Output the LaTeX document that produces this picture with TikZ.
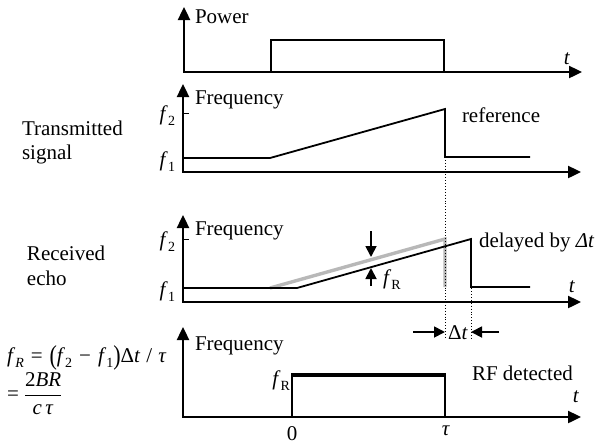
\documentclass[tikz,border=0pt]{standalone}
\usepackage{fontspec}
\setmainfont{Liberation Serif}
\usetikzlibrary{arrows.meta}
% lowered subscript in the text font
\newcommand\lowsub[1]{\raisebox{-0.28em}{\fontsize{14}{14}\selectfont #1}}
% taller parentheses for the formula
\newcommand\tallp[1]{\raisebox{-0.12em}{\scalebox{1.05}[1.3]{#1}}}

\begin{document}
\begin{tikzpicture}[x=1pt,y=-1pt,
  every node/.style={inner sep=0pt, outer sep=0pt},
  lbl/.style={font=\fontsize{21}{24}\selectfont},
  axis/.style={line width=2.4pt, line join=miter,
    {Triangle[length=13pt,width=12pt]}-{Triangle[length=13pt,width=12pt]}},
  sig/.style={line width=1.8pt, line join=miter},
  refsig/.style={line width=3.4pt, black!28, line join=miter},
  guide/.style={line width=0.9pt, dotted},
  tickmark/.style={line width=0.9pt},
  pointer/.style={line width=1.8pt, -{Triangle[length=11pt,width=11pt]}},
  heavy/.style={line width=4.5pt}]

\useasboundingbox (0,0) rectangle (597,445);

% ---------- power ----------
\coordinate (p1top) at (184,7);
\coordinate (p1o) at (184,72);
\coordinate (p1end) at (582,72);
\draw[axis] (p1top) -- (p1o) -- (p1end);
\draw[sig] (p1o) -- (271,72) -- (271,40) -- (444,40) -- (444,72);
\node[lbl, anchor=base west] (power) at (195,23) {Power};
\node[lbl, anchor=base] (t1) at (567,64) {\textit{t}};

% ---------- transmitted ----------
\coordinate (p2top) at (183,84);
\coordinate (p2o) at (183,172);
\coordinate (p2end) at (581,172);
\draw[axis] (p2top) -- (p2o) -- (p2end);
\draw[tickmark] (183,113) -- (189,113);
\coordinate (txstart) at (183,158);
\coordinate (txend) at (445,157);
\draw[sig] (txstart) -- (270,158) -- (445,109) -- (txend) -- (530,157);
\node[lbl, anchor=base west] (freq2) at (195,104) {Frequency};
\node[lbl, anchor=base east] (f2a) at (175,120) {\textit{f}\lowsub{2}};
\node[lbl, anchor=base east] (f1a) at (175,166) {\textit{f}\lowsub{1}};
\node[lbl, anchor=base west] (tx1) at (22,135) {Transmitted};
\node[lbl, anchor=base west] (tx2) at (22,159) {signal};
\node[lbl, anchor=base west] (refl) at (462,122) {reference};

% ---------- received ----------
\coordinate (p3top) at (183,215);
\coordinate (p3o) at (183,302);
\coordinate (p3end) at (581,302);
\draw[axis] (p3top) -- (p3o) -- (p3end);
\draw[tickmark] (183,239) -- (189,239);
% transmitted chirp repeated in grey
\draw[refsig] (270,288) -- (445,239) -- (445,287);
\coordinate (rxtop) at (471,239);
\draw[sig] (183,288) -- (297,288) -- (rxtop) -- (471,287) -- (530,287);
\node[lbl, anchor=base west] (freq3) at (195,235) {Frequency};
\node[lbl, anchor=base east] (f2b) at (175,246) {\textit{f}\lowsub{2}};
\node[lbl, anchor=base east] (f1b) at (175,296) {\textit{f}\lowsub{1}};
\node[lbl, anchor=base west] (rx1) at (27,260) {Received};
\node[lbl, anchor=base west] (rx2) at (27,285) {echo};
\node[lbl, anchor=base west] (dly) at (479,247) {delayed by \textit{Δt}};
\node[lbl, anchor=base] (t3) at (572,292) {\textit{t}};
% beat frequency markers
\coordinate (fra) at (371,231);
\coordinate (frb) at (371,257);
\coordinate (frc) at (371,286);
\coordinate (frd) at (371,268);
\draw[pointer] (fra) -- (frb);
\draw[pointer] (frc) -- (frd);
\node[lbl, anchor=base west] (fRl) at (383,284) {\textit{f}\lowsub{R}};

% ---------- delay guides ----------
\coordinate (ga) at (445,338);
\coordinate (gb) at (471,338);
\draw[guide] (txend) -- (ga);
\draw[guide] (rxtop) -- (gb);
\coordinate (dla) at (413,332);
\coordinate (dlb) at (445,332);
\coordinate (dlc) at (499,332);
\coordinate (dld) at (471,332);
\draw[pointer] (dla) -- (dlb);
\draw[pointer] (dlc) -- (dld);
\node[lbl, anchor=base] (dt) at (458,339) {Δ\textit{t}};

% ---------- RF detected ----------
\coordinate (p4top) at (183,327);
\coordinate (p4o) at (183,417);
\coordinate (p4end) at (581,417);
\draw[axis] (p4top) -- (p4o) -- (p4end);
\draw[sig] (292,417) -- (292,375);
\draw[sig] (445,375) -- (445,417);
\draw[heavy] (291,375) -- (446,375);
\node[lbl, anchor=base west] (freq4) at (195,350) {Frequency};
\node[lbl, anchor=base east] (fRd) at (290,385) {\textit{f}\lowsub{R}};
\node[lbl, anchor=base west] (rfd) at (472,380) {RF detected};
\node[lbl, anchor=base] (t4) at (576,402) {\textit{t}};
\node[lbl, anchor=base] (zero) at (292,440) {0};
\node[lbl, anchor=base] (tau) at (446,435) {\textit{τ}};

% ---------- formula ----------
\node[lbl, anchor=base west] (eq1) at (7,362)
  {\textit{f}\lowsub{\textit{R}}\kern7pt=\kern7pt\tallp{(}\textit{f}\lowsub{2}\kern7pt−\kern7pt\textit{f}\lowsub{1}\tallp{)}Δ\textit{t}\kern6pt/\kern6pt\textit{τ}};
\node[lbl, anchor=west] (eq2) at (7,394)
  {=\kern5pt$\displaystyle\frac{\hbox{2\textit{BR}}}{\hbox{\textit{c\,τ}}}$};
\end{tikzpicture}
\end{document}
